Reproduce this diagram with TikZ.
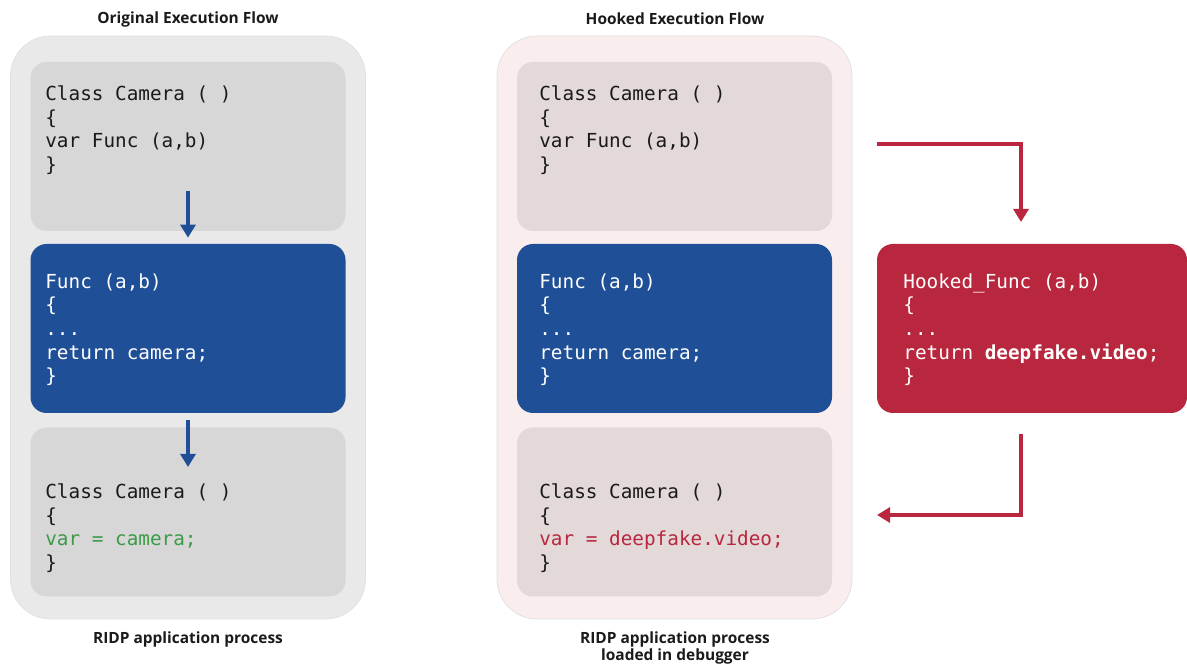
\documentclass[tikz,border=0pt]{standalone}
\usepackage{fontspec}
\setmainfont{Open Sans}
\setmonofont{DejaVu Sans Mono}
\usetikzlibrary{positioning,arrows.meta}

\definecolor{panelgray}{HTML}{E9E9E9}
\definecolor{boxgray}{HTML}{D7D7D7}
\definecolor{panelpink}{HTML}{F9EDED}
\definecolor{boxpink}{HTML}{E3D9D9}
\definecolor{funcblue}{HTML}{1F4F96}
\definecolor{hookred}{HTML}{B8273D}
\definecolor{okgreen}{HTML}{3D9A48}
\definecolor{codeblack}{HTML}{1A1A1A}

\begin{document}
\begin{tikzpicture}[
        panel/.style={rectangle, rounded corners=0.8cm, minimum width=7.1cm, minimum height=11.66cm, draw=black!12, line width=0.4pt},
        codebox/.style={rectangle, rounded corners=0.32cm, minimum width=6.3cm, minimum height=3.38cm},
        code/.style={anchor=base west, align=left, inner sep=0pt, text=codeblack, font=\fontsize{11}{13.5}\selectfont\ttfamily},
        caption/.style={align=center, text=codeblack, font=\fontsize{8.8}{10.2}\selectfont\bfseries},
        flow/.style={-{Triangle[length=0.26cm,width=0.3cm]}, line width=1.8pt}
    ]
    \useasboundingbox (0,0) rectangle (23.74,13.32);

    % Left - original flow
    \node[panel, fill=panelgray] (origpanel) at (3.76,6.77) {};
    \node[codebox, fill=boxgray] (origcam) at (3.76,10.39) {};
    \node[codebox, fill=funcblue] (origfunc) at (3.76,6.75) {};
    \node[codebox, fill=boxgray] (origret) at (3.76,3.08) {};

    \node[caption] (origtitle) at (3.76,12.94) {Original Execution Flow};
    \node[caption] (origlabel) at (3.76,0.54) {RIDP application process};

    % code text, anchored on the last line
    \node[code] (origcamtxt) at (0.90,9.89) {Class Camera ( )\\\{\\var Func (a,b)\\\}};
    \node[code, text=white] (origfunctxt) at (0.90,5.66) {Func (a,b)\\\{\\...\\return camera;\\\}};
    \node[code] (origrettxt) at (0.90,1.93) {Class Camera ( )\\\{\\\textcolor{okgreen}{var = camera;}\\\}};

    \coordinate (callstart) at (3.76,9.50);
    \coordinate (retend) at (3.76,3.98);
    \draw[flow, funcblue, shorten >=0.12cm] (callstart) -- (origfunc.north);
    \draw[flow, funcblue, shorten <=0.14cm] (origfunc.south) -- (retend);

    % Right - hooked flow
    \node[panel, fill=panelpink] (hookpanel) at (13.49,6.77) {};
    \node[codebox, fill=boxpink] (hookcam) at (13.49,10.39) {};
    \node[codebox, fill=funcblue] (hookfunc) at (13.49,6.75) {};
    \node[codebox, fill=boxpink] (hookret) at (13.49,3.08) {};
    \node[codebox, fill=hookred, minimum width=6.2cm] (hooked) at (20.64,6.75) {};

    \node[caption] (hooktitle) at (13.50,12.94) {Hooked Execution Flow};
    \node[caption] (hooklabel) at (13.50,0.36) {RIDP application process\\loaded in debugger};

    \node[code] (hookcamtxt) at (10.78,9.89) {Class Camera ( )\\\{\\var Func (a,b)\\\}};
    \node[code, text=white] (hookfunctxt) at (10.78,5.66) {Func (a,b)\\\{\\...\\return camera;\\\}};
    \node[code] (hookrettxt) at (10.78,1.93) {Class Camera ( )\\\{\\\textcolor{hookred}{var = deepfake.video;}\\\}};
    \node[code, text=white] (hookedtxt) at (18.06,5.66) {Hooked\_Func (a,b)\\\{\\...\\return \textbf{deepfake.video};\\\}};

    % Detour arrows
    \coordinate (detourA) at (17.54,10.44);
    \coordinate (detourB) at (20.42,8.88);
    \coordinate (backA) at (20.42,4.64);
    \coordinate (backB) at (17.54,3.02);
    \draw[flow, hookred] (detourA) -| (detourB);
    \draw[flow, hookred] (backA) |- (backB);

    \end{tikzpicture}
\end{document}
